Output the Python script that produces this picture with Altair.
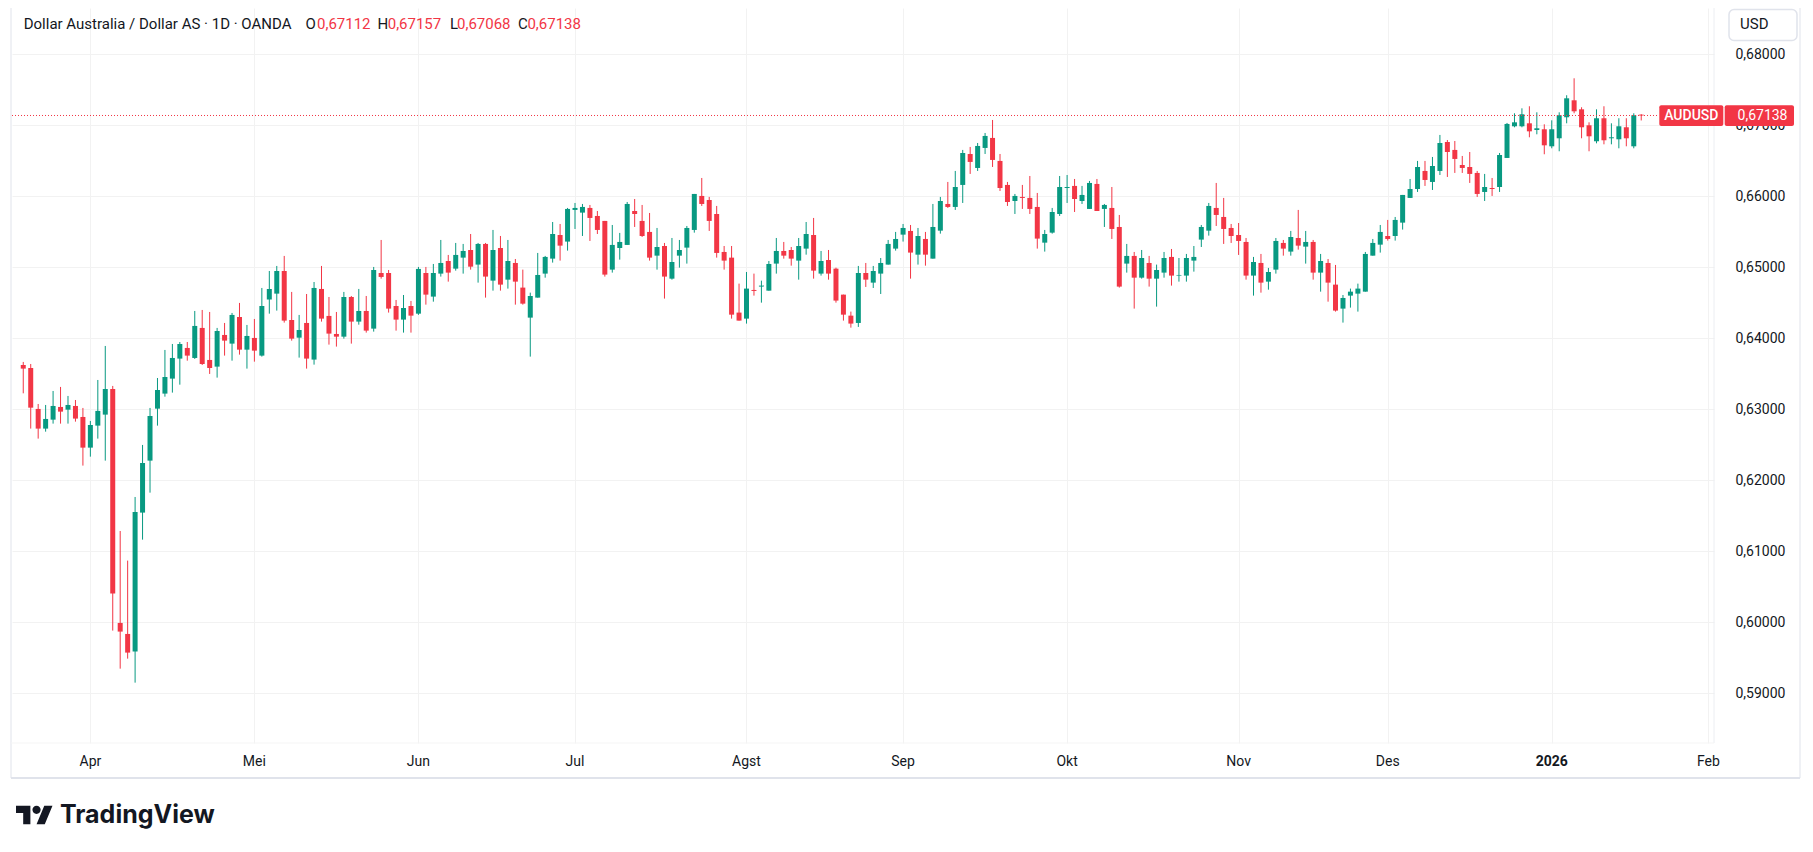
import altair as alt
import pandas as pd

# ---- data ----
opens = [0.63624,0.63582,0.63005,0.62728,0.62854,0.63033,0.62995,0.63047,0.62892,0.62460,
0.62770,0.62925,0.63286,0.59991,0.59836,0.59587,0.61545,0.62277,0.63009,0.63221,
0.63432,0.63714,0.63864,0.63723,0.64146,0.63695,0.63601,0.64047,0.63925,0.64300,
0.63840,0.64005,0.63756,0.64545,0.64629,0.64948,0.64258,0.64009,0.64216,0.63700,
0.64695,0.64315,0.64061,0.64023,0.64582,0.64235,0.64385,0.64136,0.64920,0.64920,
0.64455,0.64263,0.64455,0.64347,0.64920,0.64587,0.64911,0.65089,0.64981,0.65136,
0.65244,0.65038,0.65329,0.64812,0.65272,0.64826,0.65061,0.64714,0.64291,0.64573,
0.64911,0.65122,0.65455,0.65362,0.65808,0.65770,0.65836,0.65723,0.65653,0.64967,
0.65272,0.65315,0.65793,0.65653,0.65498,0.65164,0.65300,0.64840,0.65164,0.65277,
0.65526,0.66005,0.65948,0.65751,0.65216,0.65136,0.64362,0.64277,0.64681,0.64728,
0.64671,0.65052,0.65230,0.65244,0.65094,0.65263,0.65455,0.64911,0.65103,0.64981,
0.64615,0.64319,0.64216,0.64920,0.64784,0.64911,0.65038,0.65263,0.65460,0.65512,
0.65178,0.65399,0.65122,0.65516,0.65892,0.65850,0.66160,0.66596,0.66399,0.66681,
0.66822,0.66498,0.66160,0.65934,0.65991,0.65977,0.65850,0.65347,0.65488,0.65751,
0.66117,0.66146,0.65934,0.65822,0.66174,0.65822,0.65836,0.65568,0.65052,0.65160,
0.64854,0.65061,0.64840,0.64925,0.65146,0.64883,0.64883,0.65094,0.65390,0.65516,
0.65836,0.65709,0.65554,0.65455,0.65357,0.64883,0.65061,0.64798,0.64967,0.65343,
0.65221,0.65413,0.65291,0.65357,0.64925,0.65061,0.64756,0.64418,0.64601,0.64629,
0.64657,0.65164,0.65319,0.65441,0.65441,0.65629,0.65977,0.66103,0.66357,0.66202,
0.66357,0.66765,0.66653,0.66441,0.66413,0.66329,0.66061,0.66117,0.66131,0.66540,
0.66986,0.66986,0.67028,0.66934,0.66944,0.66704,0.66817,0.67113,0.67352,0.67225,
0.67000,0.66775,0.67099,0.66817,0.66803,0.66972,0.66704,0.67150]
highs = [0.63667,0.63638,0.63075,0.63061,0.63258,0.63315,0.63188,0.63131,0.63019,0.62836,
0.63413,0.63892,0.63329,0.61286,0.60869,0.61765,0.62498,0.63019,0.63441,0.63836,
0.63920,0.63948,0.63948,0.64385,0.64399,0.64371,0.64146,0.64216,0.64357,0.64498,
0.64188,0.64272,0.64709,0.64948,0.65019,0.65160,0.64653,0.64329,0.64624,0.64793,
0.65019,0.64582,0.64371,0.64653,0.64596,0.64695,0.64596,0.65005,0.65385,0.64962,
0.64540,0.64610,0.64526,0.65005,0.65005,0.65047,0.65385,0.65174,0.65343,0.65329,
0.65469,0.65343,0.65343,0.65526,0.65441,0.65385,0.65117,0.64967,0.64643,0.65202,
0.65160,0.65638,0.65610,0.65836,0.65906,0.65892,0.65878,0.65793,0.65653,0.65596,
0.65484,0.65920,0.65962,0.65878,0.65765,0.65554,0.65343,0.65413,0.65385,0.65582,
0.66033,0.66258,0.65991,0.65864,0.65300,0.65300,0.64770,0.64934,0.64911,0.64812,
0.65089,0.65413,0.65357,0.65286,0.65413,0.65638,0.65695,0.65230,0.65244,0.64995,
0.64615,0.64376,0.65019,0.65061,0.65019,0.65131,0.65385,0.65498,0.65610,0.65596,
0.65554,0.65498,0.65892,0.65991,0.66202,0.66357,0.66653,0.66695,0.66751,0.66892,
0.67075,0.66596,0.66202,0.66033,0.66160,0.66286,0.66047,0.65526,0.65836,0.66286,
0.66300,0.66244,0.66146,0.66216,0.66244,0.65892,0.66131,0.65737,0.65329,0.65216,
0.65244,0.65160,0.65038,0.65216,0.65258,0.65131,0.65188,0.65300,0.65596,0.65906,
0.66188,0.65977,0.65610,0.65624,0.65413,0.65146,0.65188,0.64991,0.65413,0.65385,
0.65512,0.65808,0.65512,0.65385,0.65188,0.65117,0.65033,0.64610,0.64700,0.64770,
0.65216,0.65399,0.65596,0.65667,0.65709,0.66019,0.66244,0.66498,0.66498,0.66554,
0.66864,0.66793,0.66779,0.66568,0.66624,0.66357,0.66315,0.66258,0.66610,0.67033,
0.67169,0.67239,0.67268,0.67183,0.67014,0.67070,0.67183,0.67423,0.67662,0.67254,
0.67042,0.67225,0.67268,0.67028,0.67099,0.67099,0.67169,0.67157]
lows = [0.63225,0.62728,0.62587,0.62685,0.62798,0.62798,0.62798,0.62826,0.62207,0.62333,
0.62587,0.62277,0.59883,0.59347,0.59488,0.59150,0.61164,0.61826,0.62770,0.63178,
0.63235,0.63347,0.63685,0.63709,0.63624,0.63498,0.63446,0.63756,0.63685,0.63770,
0.63573,0.63671,0.63742,0.64347,0.64390,0.64221,0.63967,0.63728,0.63573,0.63629,
0.64235,0.63911,0.63883,0.63995,0.63925,0.64192,0.64080,0.64094,0.64840,0.64362,
0.64108,0.64080,0.64080,0.64330,0.64474,0.64516,0.64869,0.64798,0.64953,0.64911,
0.64967,0.64784,0.64573,0.64671,0.64671,0.64700,0.64474,0.64474,0.63742,0.64573,
0.64854,0.65066,0.65094,0.65235,0.65540,0.65441,0.65371,0.65469,0.64869,0.64925,
0.65108,0.65315,0.65568,0.65427,0.65094,0.64967,0.64559,0.64826,0.64995,0.65052,
0.65488,0.65864,0.65512,0.65136,0.64967,0.64277,0.64249,0.64207,0.64601,0.64502,
0.64671,0.64911,0.65122,0.65023,0.64826,0.65178,0.64840,0.64883,0.64826,0.64502,
0.64249,0.64150,0.64160,0.64723,0.64709,0.64624,0.65038,0.65235,0.65362,0.64840,
0.65038,0.65023,0.65122,0.65474,0.65836,0.65808,0.65906,0.66315,0.66357,0.66596,
0.66413,0.66075,0.65864,0.65751,0.65822,0.65751,0.65263,0.65221,0.65474,0.65723,
0.65906,0.65779,0.65892,0.65822,0.65793,0.65568,0.65399,0.64714,0.64925,0.64418,
0.64840,0.64728,0.64446,0.64854,0.64742,0.64798,0.64798,0.64939,0.65286,0.65446,
0.65582,0.65329,0.65343,0.65174,0.64826,0.64601,0.64643,0.64685,0.64911,0.65164,
0.65164,0.65249,0.65052,0.64826,0.64657,0.64516,0.64376,0.64221,0.64432,0.64376,
0.64657,0.65164,0.65207,0.65376,0.65376,0.65531,0.65977,0.66061,0.66146,0.66089,
0.66300,0.66272,0.66329,0.66329,0.66188,0.65991,0.65934,0.66005,0.66061,0.66540,
0.66972,0.66972,0.66831,0.66873,0.66592,0.66676,0.66634,0.67028,0.67169,0.66817,
0.66634,0.66746,0.66732,0.66732,0.66676,0.66704,0.66676,0.67068]
closes = [0.63573,0.63023,0.62728,0.62864,0.63047,0.62967,0.63061,0.62869,0.62460,0.62779,
0.62977,0.63286,0.60404,0.59869,0.59573,0.61554,0.62244,0.62906,0.63272,0.63455,
0.63723,0.63920,0.63756,0.64174,0.63638,0.63582,0.64103,0.63967,0.64329,0.63840,
0.64033,0.63826,0.64455,0.64695,0.64948,0.64249,0.63995,0.64117,0.63714,0.64709,
0.64277,0.64066,0.64023,0.64582,0.64235,0.64385,0.64108,0.64962,0.64864,0.64418,
0.64263,0.64427,0.64319,0.64977,0.64615,0.64920,0.65061,0.64925,0.65174,0.65230,
0.65009,0.65329,0.64869,0.65244,0.64756,0.65089,0.64798,0.64488,0.64596,0.64892,
0.65146,0.65469,0.65305,0.65822,0.65836,0.65850,0.65695,0.65526,0.64897,0.65315,
0.65357,0.65892,0.65751,0.65441,0.65136,0.65286,0.64869,0.65075,0.65244,0.65554,
0.66033,0.65892,0.65653,0.65202,0.65094,0.64333,0.64249,0.64700,0.64667,0.64742,
0.65047,0.65230,0.65164,0.65122,0.65300,0.65469,0.64953,0.65089,0.64911,0.64531,
0.64333,0.64207,0.64920,0.64826,0.64948,0.65061,0.65329,0.65399,0.65554,0.65207,
0.65441,0.65178,0.65568,0.65934,0.65850,0.66131,0.66610,0.66484,0.66709,0.66850,
0.66512,0.66117,0.65920,0.66005,0.65977,0.65822,0.65404,0.65469,0.65779,0.66131,
0.66131,0.65962,0.66019,0.66188,0.65793,0.65878,0.65540,0.64728,0.65160,0.64854,
0.65131,0.64840,0.64962,0.65131,0.64883,0.64892,0.65131,0.65146,0.65568,0.65864,
0.65737,0.65540,0.65441,0.65371,0.64883,0.65075,0.64784,0.64934,0.65371,0.65263,
0.65427,0.65305,0.65357,0.64925,0.65089,0.64784,0.64390,0.64568,0.64657,0.64700,
0.65188,0.65343,0.65498,0.65399,0.65667,0.66019,0.66103,0.66413,0.66230,0.66427,
0.66751,0.66624,0.66526,0.66399,0.66315,0.66033,0.66131,0.66103,0.66582,0.67019,
0.67042,0.67155,0.66915,0.66958,0.66718,0.66944,0.67141,0.67380,0.67197,0.66972,
0.66845,0.67099,0.66789,0.66831,0.66986,0.66817,0.67141,0.67138]

month_bar = [9, 31, 53, 74, 97, 118, 140, 163, 183, 205, 226]
month_names = ["Apr", "Mei", "Jun", "Jul", "Agst", "Sep", "Okt", "Nov", "Des", "2026", "Feb"]
year_label = "2026"
y_ticks = [0.59, 0.60, 0.61, 0.62, 0.63, 0.64, 0.65, 0.66, 0.67, 0.68]

title_text = "Dollar Australia / Dollar AS · 1D · OANDA"
ohlc_letters = ["O", "H", "L", "C"]
ohlc_values = ["0,67112", "0,67157", "0,67068", "0,67138"]
symbol = "AUDUSD"
currency = "USD"
last_price = 0.67138
last_price_text = "0,67138"

UP = "#089981"
DOWN = "#F23645"
TXT = "#131722"
GRID = "#F2F2F2"
FRAME = "#E0E3EB"
FONT = "Roboto"

W, H = 1702, 735

df = pd.DataFrame({"i": list(range(len(opens))), "open": opens, "high": highs,
                   "low": lows, "close": closes})
df["dir"] = ["up" if c >= o else "down" for o, c in zip(opens, closes)]

xscale = alt.Scale(domain=[-0.84, 226.09], nice=False, zero=False)
yscale = alt.Scale(domain=[0.58300, 0.68652], nice=False, zero=False)
color = alt.Color("dir:N", scale=alt.Scale(domain=["up", "down"], range=[UP, DOWN]), legend=None)

xaxis = alt.Axis(values=month_bar, grid=True, gridColor=GRID, gridWidth=1, labels=False,
                 ticks=False, domain=False, title=None)
yaxis = alt.Axis(orient="right", values=y_ticks, grid=True, gridColor=GRID, gridWidth=1,
                 labelExpr="replace(format(datum.value, '.5f'), '.', ',')",
                 labelFont=FONT, labelFontSize=14, labelColor=TXT, labelPadding=21,
                 ticks=False, domain=False, title=None)

base = alt.Chart(df)
wicks = base.mark_rule(strokeWidth=1).encode(
    x=alt.X("i:Q", scale=xscale, axis=xaxis),
    y=alt.Y("low:Q", scale=yscale, axis=yaxis),
    y2="high:Q",
    color=color,
)
bodies = base.mark_bar(size=5).encode(
    x=alt.X("i:Q", scale=xscale),
    y=alt.Y("open:Q", scale=yscale),
    y2="close:Q",
    color=color,
)

one = alt.Data(values=[{}])

# price line
price_df = pd.DataFrame({"p": [last_price]})
price_line = alt.Chart(price_df).mark_rule(color=DOWN, strokeWidth=1, strokeDash=[1, 2]).encode(
    y=alt.Y("p:Q", scale=yscale), x=alt.value(0), x2=alt.value(1647))

# month labels
mdf = pd.DataFrame({"i": month_bar, "label": month_names})
mlabels = alt.Chart(mdf).transform_filter(f"datum.label != '{year_label}'").mark_text(
    font=FONT, fontSize=14, color=TXT, baseline="middle").encode(
    x=alt.X("i:Q", scale=xscale), y=alt.value(754), text="label:N")
ylabel = alt.Chart(mdf).transform_filter(f"datum.label == '{year_label}'").mark_text(
    font=FONT, fontSize=14, fontWeight="bold", color=TXT, baseline="middle").encode(
    x=alt.X("i:Q", scale=xscale), y=alt.value(754), text="label:N")

# frame lines
def hline(y, x1, x2, w=1, c=FRAME):
    return alt.Chart(one).mark_rule(color=c, strokeWidth=w).encode(
        x=alt.value(x1), x2=alt.value(x2), y=alt.value(y))

def vline(x, y1, y2, w=1, c=FRAME):
    return alt.Chart(one).mark_rule(color=c, strokeWidth=w).encode(
        x=alt.value(x), y=alt.value(y1), y2=alt.value(y2))

frame = (vline(-1, 0, 770) + vline(1788, 0, 770) + hline(770, -1, 1788, 2)
         + vline(1702, 0, 735, 1, "#ECEEF2") + hline(735, -1, 1702, 1, "#F5F5F5"))

# header
def txt(s, x, y, size=14, c=TXT, weight="normal", align="left", font=FONT):
    return alt.Chart(one).mark_text(text=s, font=font, fontSize=size, color=c,
                                    fontWeight=weight, align=align, baseline="middle").encode(
        x=alt.value(x), y=alt.value(y))

header = txt(title_text, 11.7, 16, size=15)
letter_x = [293.5, 365.5, 438, 506]
value_x = [305, 375.7, 445, 515.4]
for lx, vx, l, v in zip(letter_x, value_x, ohlc_letters, ohlc_values):
    header = header + txt(l, lx, 16, size=15) + txt(v, vx, 16, size=15, c=DOWN)

# USD box
usd_box = alt.Chart(one).mark_rect(fill="white", stroke=FRAME, strokeWidth=1.5, cornerRadius=5).encode(
    x=alt.value(1717), x2=alt.value(1785), y=alt.value(1.5), y2=alt.value(32.5))
usd_text = txt(currency, 1728, 16, size=15)

# last price labels
sym_box = alt.Chart(one).mark_rect(fill=DOWN, cornerRadius=2).encode(
    x=alt.value(1647.3), x2=alt.value(1711.3), y=alt.value(97.3), y2=alt.value(118))
val_box = alt.Chart(one).mark_rect(fill=DOWN, cornerRadius=2).encode(
    x=alt.value(1712.7), x2=alt.value(1782), y=alt.value(97.3), y2=alt.value(118))
sym_text = txt(symbol, 1679.3, 108, size=14, c="white", weight=500, align="center")
val_text = txt(last_price_text, 1750.5, 108, size=14, c="white", align="center")

# TradingView logo
logo_path = ("M-1,-0.5L-0.2222,-0.5L-0.2222,0.5L-0.6111,0.5L-0.6111,-0.1111L-1,-0.1111Z"
             "M0.5556,0.5L0.1111,0.5L0.5278,-0.5L0.9722,-0.5Z"
             "M0.3333,-0.2778A0.2222,0.2222 0 1 1 -0.1111,-0.2778"
             "A0.2222,0.2222 0 1 1 0.3333,-0.2778Z")
logo_icon = alt.Chart(one).mark_point(shape=logo_path, filled=True, fill=TXT, stroke=None,
                                      size=1369, opacity=1).encode(
    x=alt.value(22.5), y=alt.value(807))
logo_text = txt("TradingView", 48, 807, size=25, weight="bold", font="Inter")

chart = alt.layer(
    wicks, bodies, price_line, mlabels, ylabel, frame, header,
    usd_box, usd_text, sym_box, val_box, sym_text, val_text, logo_icon, logo_text
).properties(
    width=W, height=H,
    autosize=alt.AutoSizeParams(type="none"),
    padding={"left": 4, "top": 0, "right": 91, "bottom": 95},
    background="white",
).configure_view(stroke=None)

chart.save("out.html", embed_options={"renderer": "svg", "actions": False})
